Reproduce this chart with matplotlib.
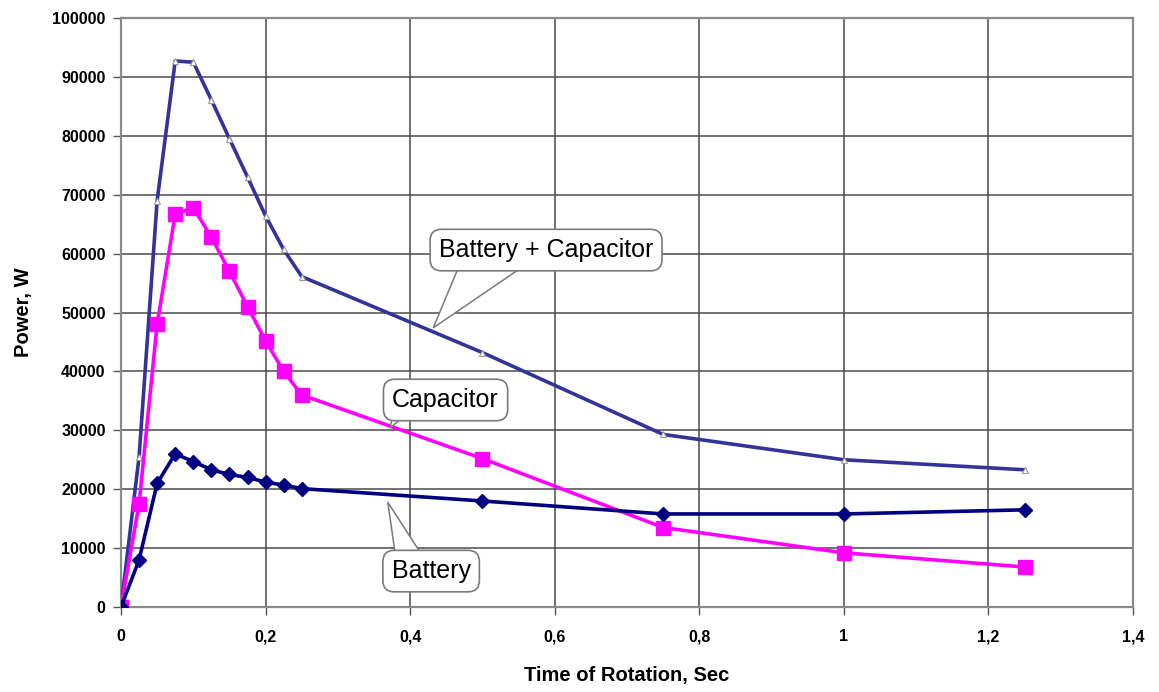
import matplotlib
matplotlib.use("Agg")
import matplotlib.pyplot as plt
from matplotlib.patches import Polygon
from matplotlib.ticker import FuncFormatter, MultipleLocator

# Data
time_s = [0, 0.025, 0.05, 0.075, 0.1, 0.125, 0.15, 0.175, 0.2, 0.225, 0.25, 0.5, 0.75, 1.0, 1.25]
battery = [0, 8000, 21000, 26000, 24700, 23300, 22500, 22000, 21200, 20700, 20100, 18000, 15800, 15800, 16500]
capacitor = [0, 17500, 48000, 66700, 67800, 62800, 57000, 51000, 45200, 40000, 36000, 25200, 13500, 9200, 6800]
batt_cap = [0, 25500, 69000, 92700, 92500, 86100, 79500, 73000, 66400, 60700, 56100, 43200, 29300, 25000, 23300]

series_labels = ["Battery", "Capacitor", "Battery + Capacitor"]

plt.rcParams['font.family'] = ['Liberation Sans', 'DejaVu Sans']

fig = plt.figure(figsize=(11.59, 6.92), dpi=100)
ax = fig.add_axes([0.1044, 0.1228, 0.8732, 0.8512])

ax.plot(time_s, batt_cap, color='#333399', lw=2.6, marker='^', ms=4,
        mfc='white', mec='#9A9A9A', mew=0.8, zorder=3)
ax.plot(time_s, capacitor, color='#FF00FF', lw=2.6, marker='s', ms=9.5,
        mfc='#FF00FF', mec='#FF00FF', zorder=4)
ax.plot(time_s, battery, color='#000080', lw=2.6, marker='D', ms=7,
        mfc='#000080', mec='#000080', zorder=5)

ax.set_xlim(0, 1.4)
ax.set_ylim(0, 100000)
ax.xaxis.set_major_locator(MultipleLocator(0.2))
ax.yaxis.set_major_locator(MultipleLocator(10000))
ax.xaxis.set_major_formatter(FuncFormatter(lambda v, p: ('%g' % round(v, 2)).replace('.', ',')))
ax.yaxis.set_major_formatter(FuncFormatter(lambda v, p: '%d' % v))

ax.grid(True, color='#4A4A4A', lw=1.1, zorder=0)
ax.set_axisbelow(True)
for s in ax.spines.values():
    s.set_color('#8A8A8A')
    s.set_linewidth(1.6)
ax.tick_params(axis='both', direction='out', length=6, width=1, color='#555555',
               labelsize=11.5, pad=5)
for lab in ax.get_xticklabels() + ax.get_yticklabels():
    lab.set_fontweight('bold')
ax.tick_params(axis='x', pad=10)

ax.set_xlabel("Time of Rotation, Sec", fontsize=14.5, fontweight='bold', labelpad=16)
ax.set_ylabel("Power, W", fontsize=14.5, fontweight='bold', labelpad=14)

box = dict(boxstyle='round,pad=0.35,rounding_size=0.45', fc='white', ec='#7A7A7A', lw=1.2)

callouts = [
    # label, box centre, wedge base (two points), tip
    (series_labels[2], (0.588, 60600), [(0.469, 58300), (0.562, 58300)], (0.432, 47400)),
    (series_labels[1], (0.449, 35150), [(0.376, 32400), (0.392, 32400)], (0.372, 30400)),
    (series_labels[0], (0.429, 6100), [(0.380, 8500), (0.418, 8500)], (0.369, 17800)),
]
for label, centre, base, tip in callouts:
    wedge = Polygon([base[0], tip, base[1]], closed=True, fc='white', ec='#7A7A7A',
                    lw=1.1, zorder=6)
    ax.add_patch(wedge)
    ax.text(centre[0], centre[1], label, fontsize=18, ha='center', va='center',
            bbox=box, zorder=7)

fig.savefig("out.png", dpi=100, facecolor='white')
